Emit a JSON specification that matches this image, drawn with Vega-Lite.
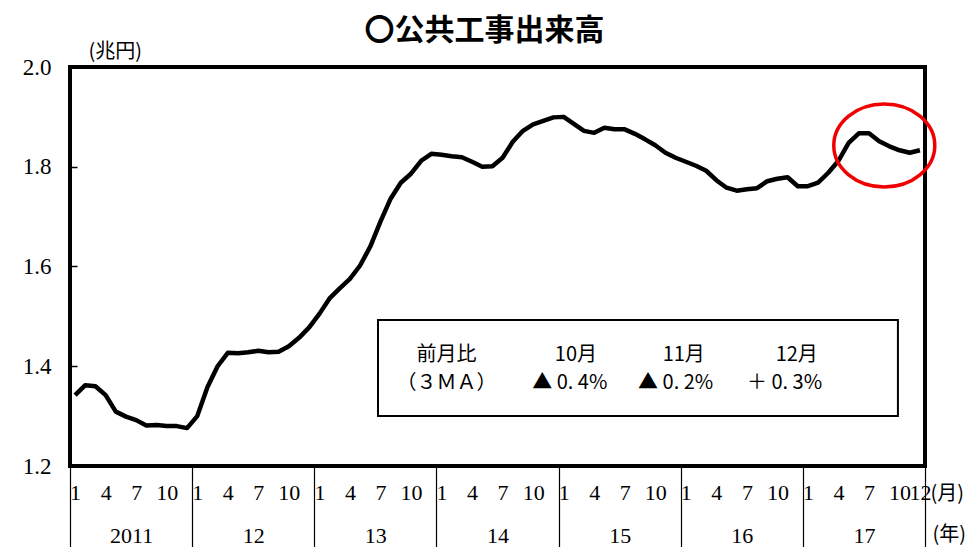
{
  "$schema": "https://vega.github.io/schema/vega-lite/v6.json",
  "width": 855,
  "height": 399,
  "autosize": {"type": "none"},
  "padding": {"left": 70, "top": 67, "right": 51, "bottom": 81},
  "background": "white",
  "config": {"view": {"stroke": "black", "strokeWidth": 4}},
  "title": {"text": "〇公共工事出来高", "font": "Noto Sans CJK JP", "fontSize": 30, "fontWeight": "bold", "color": "black", "offset": -5, "dx": -13},
  "datasets": {
    "series": [
      {"i":0,"v":1.342},{"i":1,"v":1.362},{"i":2,"v":1.360},{"i":3,"v":1.342},{"i":4,"v":1.309},{"i":5,"v":1.299},
      {"i":6,"v":1.292},{"i":7,"v":1.281},{"i":8,"v":1.282},{"i":9,"v":1.280},{"i":10,"v":1.280},{"i":11,"v":1.276},
      {"i":12,"v":1.300},{"i":13,"v":1.358},{"i":14,"v":1.400},{"i":15,"v":1.427},{"i":16,"v":1.426},{"i":17,"v":1.428},
      {"i":18,"v":1.431},{"i":19,"v":1.428},{"i":20,"v":1.429},{"i":21,"v":1.440},{"i":22,"v":1.457},{"i":23,"v":1.478},
      {"i":24,"v":1.505},{"i":25,"v":1.536},{"i":26,"v":1.556},{"i":27,"v":1.575},{"i":28,"v":1.602},{"i":29,"v":1.640},
      {"i":30,"v":1.690},{"i":31,"v":1.736},{"i":32,"v":1.768},{"i":33,"v":1.786},{"i":34,"v":1.812},{"i":35,"v":1.826},
      {"i":36,"v":1.824},{"i":37,"v":1.821},{"i":38,"v":1.819},{"i":39,"v":1.810},{"i":40,"v":1.800},{"i":41,"v":1.801},
      {"i":42,"v":1.818},{"i":43,"v":1.850},{"i":44,"v":1.872},{"i":45,"v":1.885},{"i":46,"v":1.892},{"i":47,"v":1.899},
      {"i":48,"v":1.900},{"i":49,"v":1.886},{"i":50,"v":1.872},{"i":51,"v":1.868},{"i":52,"v":1.878},{"i":53,"v":1.875},
      {"i":54,"v":1.875},{"i":55,"v":1.866},{"i":56,"v":1.855},{"i":57,"v":1.843},{"i":58,"v":1.828},{"i":59,"v":1.818},
      {"i":60,"v":1.810},{"i":61,"v":1.802},{"i":62,"v":1.792},{"i":63,"v":1.773},{"i":64,"v":1.758},{"i":65,"v":1.752},
      {"i":66,"v":1.755},{"i":67,"v":1.757},{"i":68,"v":1.771},{"i":69,"v":1.776},{"i":70,"v":1.779},{"i":71,"v":1.761},
      {"i":72,"v":1.761},{"i":73,"v":1.768},{"i":74,"v":1.788},{"i":75,"v":1.812},{"i":76,"v":1.848},{"i":77,"v":1.867},
      {"i":78,"v":1.867},{"i":79,"v":1.851},{"i":80,"v":1.841},{"i":81,"v":1.833},{"i":82,"v":1.828},{"i":83,"v":1.833}
    ],
    "box": [{"x1": 29.76, "x2": 80.84, "y1": 1.4927, "y2": 1.3003}],
    "notes": [
      {"i": 36.5, "v": 1.4226, "t": "前月比"},
      {"i": 36.5, "v": 1.3664, "t": "（３ＭＡ）"},
      {"i": 49.2, "v": 1.4226, "t": "10月"},
      {"i": 48.6, "v": 1.3664, "t": "▲ 0. 4%"},
      {"i": 59.8, "v": 1.4226, "t": "11月"},
      {"i": 59.0, "v": 1.3664, "t": "▲ 0. 2%"},
      {"i": 70.9, "v": 1.4226, "t": "12月"},
      {"i": 69.7, "v": 1.3664, "t": "＋ 0. 3%"}
    ],
    "mark": [{"i": 79.5, "v": 1.8426}]
  },
  "resolve": {"axis": {"x": "independent", "y": "independent"}},
  "layer": [
    {
      "data": {"name": "series"},
      "mark": {"type": "line", "color": "black", "strokeWidth": 4.5, "strokeJoin": "round"},
      "encoding": {
        "x": {"field": "i", "type": "quantitative",
          "scale": {"domain": [-0.5, 83.5], "nice": false, "zero": false},
          "axis": {"orient": "bottom", "values": [0,3,6,9,12,15,18,21,24,27,30,33,36,39,42,45,48,51,54,57,60,63,66,69,72,75,78,81,83],
            "labelExpr": "datum.value == 83 ? '12' : '' + (datum.value % 12 + 1)",
            "ticks": false, "domain": false, "grid": false, "labelOverlap": false, "labelFlush": false,
            "labelFont": "Liberation Serif", "labelFontSize": 22, "labelColor": "black", "labelPadding": 16,
            "title": "(月)", "titleFont": "Noto Sans CJK JP", "titleFontSize": 20, "titleFontWeight": "normal", "titleColor": "black",
            "titleX": 860, "titleY": 27, "titleAlign": "left", "titleBaseline": "middle", "titleAnchor": null}},
        "y": {"field": "v", "type": "quantitative",
          "scale": {"domain": [1.2, 2.0], "nice": false, "zero": false},
          "axis": {"orient": "left", "values": [1.2, 1.4, 1.6, 1.8, 2.0], "format": ".1f",
            "tickSize": -7, "tickColor": "black", "tickWidth": 1.5, "domain": false, "grid": false,
            "labelFont": "Liberation Serif", "labelFontSize": 23, "labelColor": "black", "labelPadding": 26,
            "title": "(兆円)", "titleFont": "Noto Sans CJK JP", "titleFontSize": 20, "titleFontWeight": "normal", "titleColor": "black",
            "titleAngle": 0, "titleX": 18, "titleY": -16, "titleAlign": "left", "titleBaseline": "middle", "titleAnchor": null}}
      }
    },
    {
      "data": {"name": "box"},
      "mark": {"type": "rect", "fill": "white", "stroke": "black", "strokeWidth": 2},
      "encoding": {
        "x": {"field": "x1", "type": "quantitative",
          "axis": {"orient": "bottom", "values": [-0.5, 11.5, 23.5, 35.5, 47.5, 59.5, 71.5, 83.5],
            "labels": false, "domain": false, "grid": false, "ticks": true, "tickSize": 81, "tickColor": "black", "tickWidth": 1.2, "title": null}},
        "x2": {"field": "x2"},
        "y": {"field": "y1", "type": "quantitative", "axis": null},
        "y2": {"field": "y2"}
      }
    },
    {
      "data": {"name": "notes"},
      "mark": {"type": "text", "font": "Noto Sans CJK JP", "fontSize": 20, "color": "black", "align": "center", "baseline": "middle"},
      "encoding": {
        "x": {"field": "i", "type": "quantitative",
          "axis": {"orient": "bottom", "values": [5.5, 17.5, 29.5, 41.5, 53.5, 65.5, 77.5],
            "labelExpr": "datum.value < 12 ? '2011' : '' + (11 + floor(datum.value / 12))",
            "ticks": false, "domain": false, "grid": false, "labelOverlap": false,
            "labelFont": "Liberation Serif", "labelFontSize": 22, "labelColor": "black", "labelPadding": 59,
            "title": "(年)", "titleFont": "Noto Sans CJK JP", "titleFontSize": 20, "titleFontWeight": "normal", "titleColor": "black",
            "titleX": 862, "titleY": 68, "titleAlign": "left", "titleBaseline": "middle", "titleAnchor": null}},
        "y": {"field": "v", "type": "quantitative", "axis": null},
        "text": {"field": "t"}
      }
    },
    {
      "data": {"name": "mark"},
      "mark": {"type": "point", "shape": "M -1 0 A 1 0.82 0 1 0 1 0 A 1 0.82 0 1 0 -1 0 Z", "size": 10201, "filled": false, "stroke": "#f00000", "strokeWidth": 3.5, "opacity": 1},
      "encoding": {
        "x": {"field": "i", "type": "quantitative", "axis": null},
        "y": {"field": "v", "type": "quantitative", "axis": null}
      }
    }
  ]
}
